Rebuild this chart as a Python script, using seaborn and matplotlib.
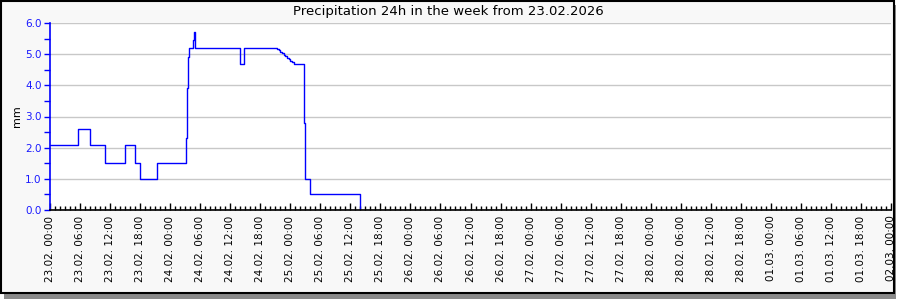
import matplotlib
matplotlib.use("Agg")
import matplotlib.pyplot as plt
import matplotlib.dates as mdates
from matplotlib.patches import Rectangle
from matplotlib.ticker import MultipleLocator, FormatStrFormatter
import pandas as pd
import seaborn as sns

# ---- data (hours since 23.02.2026 00:00, precipitation 24h in mm) ----
hours = [0.0, 5.5, 8.0, 11.0, 15.0, 17.0, 18.0, 21.3,
         27.1, 27.3, 27.5, 27.8, 28.5, 28.7, 29.0,
         37.9, 38.7, 45.0, 45.3, 45.7, 46.0, 46.3, 46.7, 47.0, 47.3, 47.7, 48.0, 48.3, 48.7,
         50.8, 51.0, 51.9, 61.9, 62.0]
precip = [2.1, 2.6, 2.1, 1.5, 2.1, 1.5, 1.0, 1.5,
          2.3, 3.9, 4.9, 5.2, 5.45, 5.7, 5.2,
          4.7, 5.2, 5.2, 5.17, 5.12, 5.08, 5.03, 4.98, 4.93, 4.88, 4.83, 4.78, 4.74, 4.7,
          2.8, 1.0, 0.5, 0.0, 0.0]
start = pd.Timestamp("2026-02-23 00:00")
end = pd.Timestamp("2026-03-02 00:00")
title = "Precipitation 24h in the week from 23.02.2026"
ylabel = "mm"

df = pd.DataFrame({"time": [start + pd.Timedelta(hours=h) for h in hours],
                   "precip": precip})

sns.set_theme(style="white")
plt.rcParams["font.family"] = ["DejaVu Sans"]

fig = plt.figure(figsize=(9, 3), dpi=100, facecolor="white")
# shadow + frame
fig.patches.append(Rectangle((4 / 900, 1.5 / 300), 892 / 900, 294 / 300, transform=fig.transFigure,
                             facecolor="#8a8a8a", edgecolor="none", zorder=-3))
fig.patches.append(Rectangle((0.5 / 900, 7 / 300), 893 / 900, 292.5 / 300, transform=fig.transFigure,
                             facecolor="#f8f8f8", edgecolor="black", linewidth=1.5, zorder=-2))

ax = fig.add_axes([50 / 900, 90 / 300, 841 / 900, 187 / 300])
ax.set_facecolor("white")

sns.lineplot(data=df, x="time", y="precip", ax=ax, color="#0000ff",
             linewidth=1.0, drawstyle="steps-post")

ax.set_xlim(start, end)
ax.set_ylim(0, 6)
ax.set_xlabel("")
ax.set_ylabel(ylabel, fontsize=8, color="black", labelpad=2)
fig.text(448 / 900, 1 - 12 / 300, title, fontsize=9.5, color="black",
         ha="center", va="center")

# y axis
ax.yaxis.set_major_locator(MultipleLocator(1.0))
ax.yaxis.set_minor_locator(MultipleLocator(0.5))
ax.yaxis.set_major_formatter(FormatStrFormatter("%.1f"))
ax.tick_params(axis="y", which="both", direction="out", length=4, width=1,
               color="#0000ff", labelcolor="#1a1aff", labelsize=7.5, pad=2, left=True)
ax.grid(axis="y", which="major", color="#c8c8c8", linewidth=1)

# x axis
ax.xaxis.set_major_locator(mdates.HourLocator(byhour=[0, 6, 12, 18]))
ax.xaxis.set_minor_locator(mdates.HourLocator())
ax.xaxis.set_major_formatter(mdates.DateFormatter("%d.%m. %H:%M"))
ax.tick_params(axis="x", which="major", direction="in", length=5, width=1,
               color="black", labelsize=7.5, labelrotation=90, pad=4, bottom=True)
ax.tick_params(axis="x", which="minor", direction="in", length=3, width=1,
               color="black", bottom=True)
for lab in ax.get_xticklabels():
    lab.set_color("black")

for side in ["top", "right"]:
    ax.spines[side].set_visible(False)
ax.spines["left"].set_color("#0000ff")
ax.spines["left"].set_linewidth(1.2)
ax.spines["bottom"].set_color("black")
ax.spines["bottom"].set_linewidth(1.2)

fig.savefig("out.png", dpi=100, facecolor=fig.get_facecolor())
